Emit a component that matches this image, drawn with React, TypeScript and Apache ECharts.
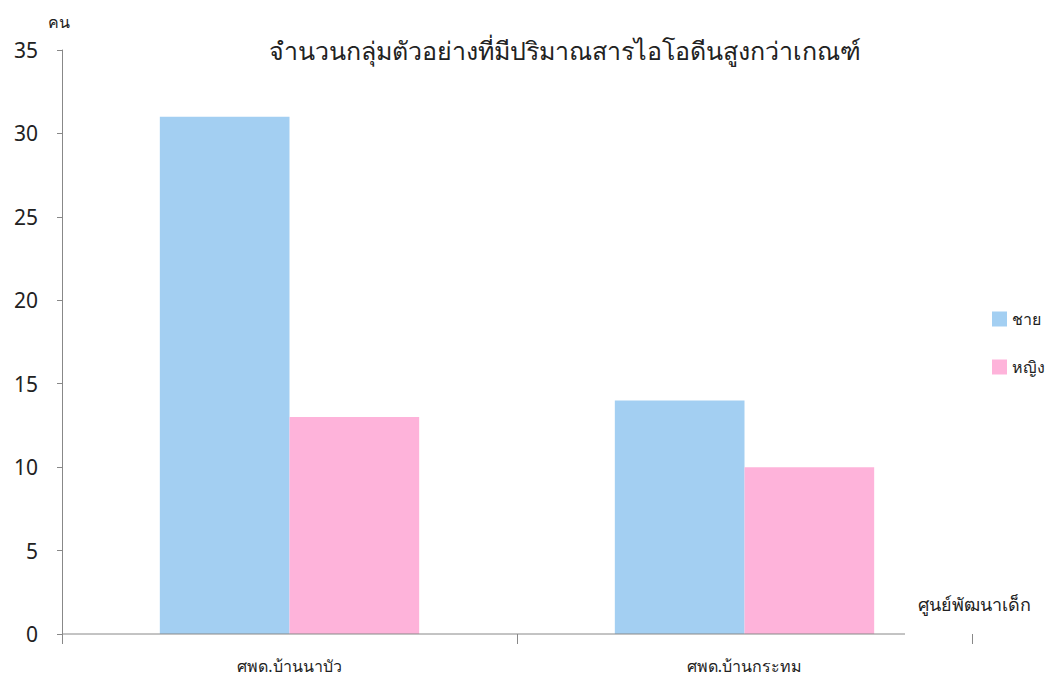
import React, { useEffect, useRef } from "react";
import * as echarts from "echarts";

const categories = ["ศพด.บ้านนาบัว", "ศพด.บ้านกระทม"];
const seriesNames = ["ชาย", "หญิง"];
const maleValues = [31, 14];
const femaleValues = [13, 10];
const colors = ["#A3CFF2", "#FEB3DA"];
const titleText = "จำนวนกลุ่มตัวอย่างที่มีปริมาณสารไอโอดีนสูงกว่าเกณฑ์";
const xAxisName = "ศูนย์พัฒนาเด็ก";
const yAxisName = "คน";

export default function App() {
  const ref = useRef<HTMLDivElement>(null);
  useEffect(() => {
    const chart = echarts.init(ref.current!, null, { renderer: "svg" });
    const font = "'Noto Sans', sans-serif";
    chart.setOption({
      animation: false,
      backgroundColor: "#ffffff",
      textStyle: { fontFamily: font },
      title: {
        text: titleText,
        left: 560,
        textAlign: "center",
        top: 32,
        textStyle: { fontSize: 25, fontWeight: "normal", color: "#222", fontFamily: font },
      },
      legend: {
        orient: "vertical",
        left: 987,
        top: 306,
        itemWidth: 15,
        itemHeight: 15,
        itemGap: 32,
        icon: "rect",
        textStyle: { fontSize: 16, color: "#222", fontFamily: font },
        data: seriesNames,
      },
      grid: { left: 62, right: 76, top: 50, bottom: 43, containLabel: false },
      xAxis: {
        type: "category",
        data: categories,
        axisLine: { show: false },
        axisTick: { show: true, length: 10, lineStyle: { color: "#888" } },
        axisLabel: { fontSize: 16, color: "#222", margin: 24, fontFamily: font },
      },
      yAxis: {
        type: "value",
        min: 0,
        max: 35,
        interval: 5,
        name: yAxisName,
        nameLocation: "end",
        nameGap: 20,
        nameTextStyle: { fontSize: 16, color: "#222", align: "right", padding: [0, -8, 0, 0] },
        axisLine: { show: true, lineStyle: { color: "#888" } },
        axisTick: { show: true, length: 5, lineStyle: { color: "#888" } },
        splitLine: { show: false },
        axisLabel: { fontSize: 21, color: "#222", margin: 24, fontFamily: font },
      },
      series: [
        {
          name: seriesNames[0],
          type: "bar",
          data: maleValues,
          itemStyle: { color: colors[0] },
          barGap: "0%",
          barCategoryGap: "43%",
        },
        {
          name: seriesNames[1],
          type: "bar",
          data: femaleValues,
          itemStyle: { color: colors[1] },
          barGap: "0%",
          barCategoryGap: "43%",
        },
      ],
      graphic: [
        {
          type: "line",
          shape: { x1: 62, y1: 634, x2: 905, y2: 634 },
          style: { stroke: "#888", lineWidth: 1 },
          z: 10,
        },
        {
          type: "text",
          left: 918,
          top: 595,
          style: { text: xAxisName, fontSize: 18, fill: "#222", fontFamily: font },
        },
      ],
    });
    return () => chart.dispose();
  }, []);
  return (
    <div
      ref={ref}
      style={{ position: "fixed", left: 0, top: 0, width: 1048, height: 677 }}
    />
  );
}
